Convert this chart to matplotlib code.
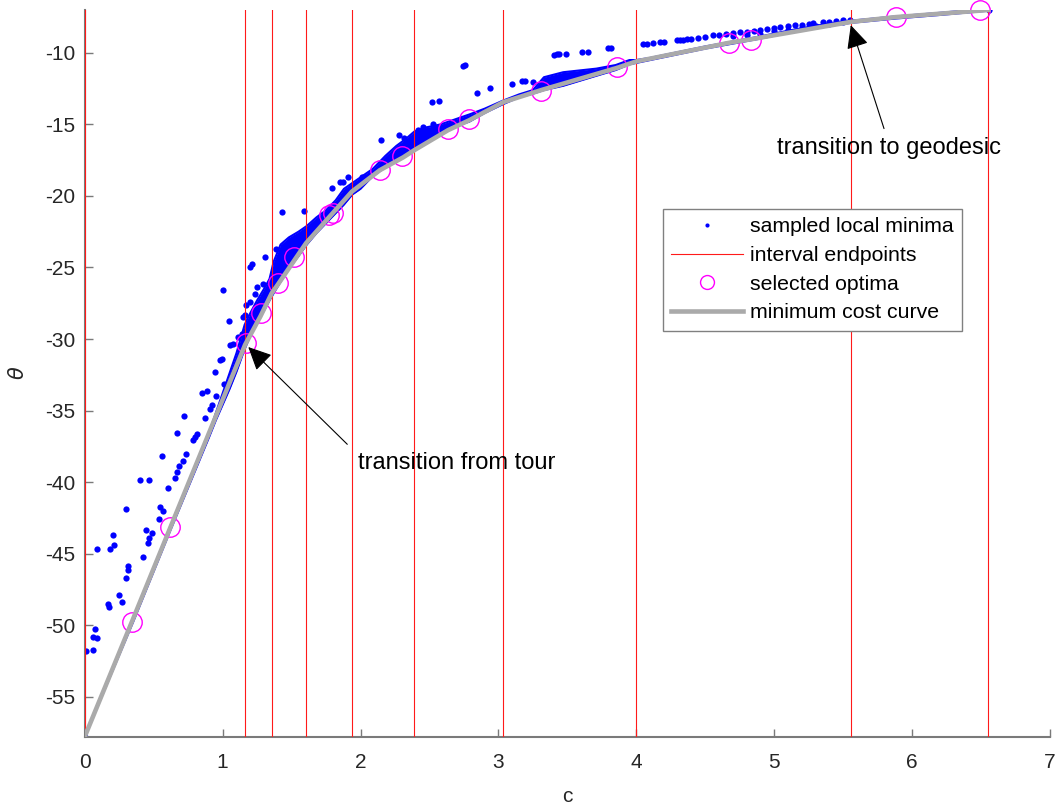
import matplotlib.pyplot as plt
import numpy as np
from matplotlib.lines import Line2D

plt.rcParams['font.family'] = ['Liberation Sans', 'DejaVu Sans']
plt.rcParams['axes.unicode_minus'] = False

# interval endpoints (vertical red lines)
interval_c = [0.0, 1.163, 1.356, 1.605, 1.937, 2.39, 3.033, 3.998, 5.557, 6.553]

# minimum cost curve
curve_c = [0.0, 0.345, 0.62, 1.163, 1.275, 1.356, 1.40, 1.52, 1.605, 1.78,
           1.937, 2.14, 2.31, 2.39, 2.635, 2.79, 3.033, 3.31, 3.86, 3.998,
           4.67, 4.83, 5.557, 5.88, 6.553]
curve_theta = [-57.8, -49.7, -43.2, -30.4, -28.4, -26.8, -26.2, -24.5, -23.3, -21.4,
               -19.7, -18.2, -17.3, -16.8, -15.4, -14.7, -13.45, -12.6, -11.05, -10.6,
               -9.3, -9.05, -7.83, -7.5, -7.0]

# selected optima (magenta circles)
sel_c = [0.345, 0.62, 1.167, 1.275, 1.40, 1.52, 1.77, 1.80, 2.14, 2.30,
         2.635, 2.79, 3.31, 3.86, 4.67, 4.83, 5.88, 6.49]
sel_theta = [-49.8, -43.15, -30.3, -28.2, -26.1, -24.3, -21.35, -21.2, -18.2, -17.2,
             -15.3, -14.65, -12.66, -11.02, -9.34, -9.11, -7.48, -7.01]

# dense cloud of sampled minima hugging the curve: lower / upper edge
band_c = [0.00, 0.35, 0.62, 0.90, 0.95, 1.00, 1.05, 1.10, 1.16, 1.20,
          1.25, 1.30, 1.34, 1.37, 1.42, 1.48, 1.55, 1.61, 1.68, 1.75,
          1.82, 1.88, 1.94, 2.00, 2.09, 2.18, 2.26, 2.33, 2.39, 2.48,
          2.58, 2.70, 2.79, 2.90, 3.03, 3.15, 3.25, 3.33, 3.47, 3.71,
          3.85, 3.95, 4.00, 4.10, 4.30, 4.50, 4.70, 4.90, 5.10, 5.30,
          5.557, 5.88, 6.20, 6.553]
band_lo = [-57.8, -49.8, -43.4, -36.9, -35.7, -34.6, -33.5, -32.3, -30.7, -29.8,
           -28.8, -28.0, -27.3, -26.8, -26.0, -25.1, -24.2, -23.4, -22.6, -21.9,
           -21.2, -20.6, -19.9, -19.5, -18.6, -18.0, -17.5, -17.1, -16.8, -16.3,
           -15.7, -15.1, -14.8, -14.2, -13.6, -13.1, -12.85, -12.6, -12.3, -11.6,
           -11.2, -10.8, -10.7, -10.5, -10.1, -9.7, -9.35, -9.0, -8.6, -8.25,
           -7.9, -7.6, -7.35, -7.05]
band_hi = [-57.8, -49.6, -43.1, -36.6, -35.2, -33.8, -32.4, -31.0, -29.0, -28.2,
           -27.3, -26.5, -25.8, -24.6, -23.4, -22.9, -22.5, -22.1, -21.5, -21.0,
           -20.3, -19.5, -19.1, -18.7, -18.1, -17.2, -16.5, -16.0, -15.5, -15.2,
           -15.0, -14.6, -14.3, -13.9, -13.35, -12.9, -12.6, -11.7, -11.35, -11.1,
           -10.85, -10.5, -10.5, -10.35, -9.95, -9.55, -9.2, -8.85, -8.45, -8.1,
           -7.75, -7.45, -7.2, -6.9]

# individual sampled local minima (c, theta)
sampled_pts = [
    (0.000, -57.8), (0.007, -51.84), (0.058, -51.77), (0.058, -50.86), (0.075, -50.28),
    (0.087, -50.88), (0.091, -44.7), (0.169, -48.55), (0.178, -48.74), (0.183, -44.66),
    (0.203, -43.73), (0.215, -44.43), (0.249, -47.87), (0.273, -48.39), (0.297, -46.73),
    (0.297, -41.89), (0.316, -45.85), (0.316, -46.13), (0.401, -39.83), (0.421, -45.24),
    (0.445, -43.38), (0.457, -44.27), (0.468, -43.89), (0.468, -39.88), (0.486, -43.57),
    (0.541, -42.56), (0.546, -41.75), (0.558, -38.15), (0.570, -42.05), (0.606, -40.39),
    (0.655, -39.69), (0.667, -39.3), (0.667, -36.57), (0.686, -38.9), (0.711, -38.55),
    (0.722, -35.38), (0.735, -38.06), (0.788, -37.03), (0.800, -36.85), (0.812, -36.62),
    (0.848, -33.78), (0.872, -35.52), (0.885, -33.66), (0.909, -34.87), (0.921, -34.63),
    (0.945, -32.31), (0.952, -34.0), (0.981, -31.49), (0.993, -31.37), (1.000, -26.55),
    (1.010, -33.12), (1.046, -28.76), (1.054, -30.44), (1.078, -30.32), (1.114, -29.86),
    (1.138, -29.62), (1.150, -28.46), (1.162, -28.34), (1.170, -27.64), (1.199, -27.41),
    (1.199, -25.0), (1.211, -24.73), (1.235, -26.83), (1.247, -26.36), (1.295, -26.13),
    (1.307, -24.27), (1.387, -23.68), (1.428, -21.14), (1.593, -21.07), (1.791, -19.41),
    (1.851, -19.02), (1.875, -19.02), (1.912, -18.67), (2.009, -18.67), (2.149, -16.1),
    (2.279, -15.71), (2.316, -15.94), (2.419, -15.41), (2.451, -15.17), (2.528, -14.94),
    (2.516, -13.4), (2.571, -13.36), (2.745, -10.91), (2.760, -10.85), (2.843, -12.8),
    (2.939, -12.42), (3.096, -12.14), (3.169, -11.96), (3.190, -11.96), (3.253, -12.03),
    (3.403, -10.16), (3.423, -10.11), (3.440, -10.1), (3.490, -10.09), (3.609, -9.93),
    (3.648, -9.93), (3.793, -9.69), (3.815, -9.69), (4.051, -9.41), (4.080, -9.4),
    (4.123, -9.34), (4.172, -9.23), (4.200, -9.22), (4.293, -9.11), (4.320, -9.1),
    (4.341, -9.07), (4.370, -9.05), (4.400, -9.0), (4.450, -8.93), (4.500, -8.86),
    (4.558, -8.76), (4.600, -8.72), (4.650, -8.66), (4.700, -8.6), (4.750, -8.56),
    (4.800, -8.53), (4.850, -8.47), (4.900, -8.38), (4.950, -8.3), (5.000, -8.23),
    (5.042, -8.18), (5.100, -8.12), (5.150, -8.07), (5.200, -8.02), (5.250, -7.97),
    (5.284, -7.94), (5.350, -7.87), (5.400, -7.82), (5.450, -7.77), (5.500, -7.73),
    (5.550, -7.71), (4.700, -8.85), (4.800, -8.78), (4.900, -8.65), (5.000, -8.5),
    (5.100, -8.38), (5.200, -8.25), (5.300, -8.1), (5.400, -7.98), (5.500, -7.85),
    (6.560, -6.97),
]
pts = np.array(sampled_pts)

fig = plt.figure(figsize=(10.55, 8.11), dpi=100)
ax = fig.add_axes([0.0803, 0.0916, 0.9150, 0.8961])

# sampled local minima
ax.fill_between(band_c, band_lo, band_hi, color='b', lw=0, zorder=2)
ax.plot(band_c, band_lo, color='b', lw=1.5, zorder=2)
ax.plot(band_c, band_hi, color='b', lw=1.5, zorder=2)
ax.plot(pts[:, 0], pts[:, 1], 'o', color='b', ms=4.5, mew=0, zorder=2)

# interval endpoints
for x in interval_c:
    ax.axvline(x, color='#ff1a1a', lw=0.8, zorder=3)

# selected optima
ax.plot(sel_c, sel_theta, 'o', mfc='none', mec='#ff00ff', ms=14, mew=1.0,
        zorder=4, clip_on=False)

# minimum cost curve
ax.plot(curve_c, curve_theta, color='#aaaaaa', lw=3.3, zorder=5)

ax.set_xlim(0, 7)
ax.set_ylim(-57.8, -7.0)
ax.set_xticks(range(0, 8))
ax.set_yticks(range(-55, -9, 5))
for s in ['top', 'right']:
    ax.spines[s].set_visible(False)
for s in ['left', 'bottom']:
    ax.spines[s].set_color('#7a7a7a')
    ax.spines[s].set_linewidth(1.5)
ax.tick_params(direction='in', length=6, width=1, color='#7a7a7a',
               labelcolor='#262626', labelsize=15)
ax.tick_params(axis='y', pad=7)
ax.tick_params(axis='x', pad=12)

fig.text(567.5 / 1055, 1 - 797 / 811, 'c', fontsize=15, color='#262626',
         ha='center', va='center')
fig.text(18 / 1055, 1 - 373 / 811, r'$\theta$', fontsize=15, color='#262626',
         rotation=90, ha='center', va='center')

# annotations
arrow = dict(arrowstyle='-|>,head_length=0.9,head_width=0.43', mutation_scale=16,
             lw=0.8, color='k', shrinkA=0, shrinkB=0)
ax.annotate('', xy=(1.186, -30.56), xytext=(1.904, -37.36), arrowprops=arrow, zorder=6)
ax.text(1.983, -39.11, 'transition from tour', fontsize=17, ha='left', va='baseline')
ax.annotate('', xy=(5.555, -8.06), xytext=(5.796, -15.29), arrowprops=arrow, zorder=6)
ax.text(5.018, -17.08, 'transition to geodesic', fontsize=17, ha='left', va='baseline')

handles = [
    Line2D([], [], ls='none', marker='o', color='b', ms=3, mew=0),
    Line2D([], [], color='#ff1a1a', lw=0.8),
    Line2D([], [], ls='none', marker='o', mfc='none', mec='#ff00ff', ms=10, mew=1.0),
    Line2D([], [], color='#aaaaaa', lw=3.3),
]
labels = ['sampled local minima', 'interval endpoints', 'selected optima',
          'minimum cost curve']
leg = ax.legend(handles, labels, loc='upper left',
                bbox_to_anchor=(662.7 / 1055, 1 - 209 / 811),
                bbox_transform=fig.transFigure, borderaxespad=0, fontsize=15.3,
                handlelength=3.4, handletextpad=0.3, labelspacing=0.45,
                borderpad=0.4, fancybox=False, framealpha=1, numpoints=1)
leg.get_frame().set_edgecolor('#808080')
leg.get_frame().set_linewidth(1.0)
leg.set_zorder(10)

fig.savefig('out.png', dpi=100)
